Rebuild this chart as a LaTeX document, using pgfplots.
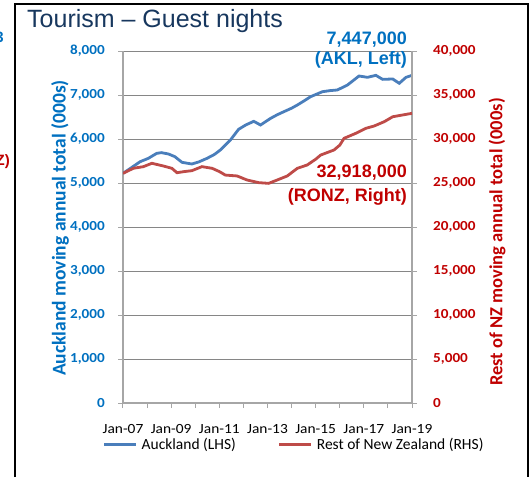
\documentclass[border=0pt]{standalone}
\usepackage{fontspec}
\setmainfont{Carlito}
\newfontfamily\arialf{Liberation Sans}
\newfontfamily\calst[FakeStretch=1.1]{Carlito}
\usepackage{pgfplots}
\pgfplotsset{compat=1.18}

\definecolor{aklline}{HTML}{4A7EBB}
\definecolor{ronzline}{HTML}{BE4B48}
\definecolor{aklblue}{HTML}{0070C0}
\definecolor{ronzred}{HTML}{C00000}
\definecolor{titlenavy}{HTML}{17375E}
\definecolor{gridgray}{HTML}{868686}
\definecolor{axisgray}{HTML}{A6A6A6}

\pgfplotsset{
  tourism/.style={
    scale only axis, width=289pt, height=352pt,
    xmin=2007, xmax=2019,
    tick align=outside, major tick length=5pt, minor tick length=5pt,
    axis line style={draw=axisgray, line width=1.6pt, -},
    tick style={draw=axisgray, line width=1pt},
    scaled y ticks=false,
    /pgf/number format/1000 sep={,},
    /pgf/number format/assume math mode=true,
  }
}

\begin{document}
\begin{tikzpicture}[x=1pt,y=1pt]
\useasboundingbox (-123,-74) rectangle (409,403);

\begin{axis}[tourism,
  ymin=0, ymax=8000,
  axis y line*=left, axis x line*=bottom,
  xtick={2007,2009,...,2019},
  xticklabels={Jan-07,Jan-09,Jan-11,Jan-13,Jan-15,Jan-17,Jan-19},
  minor xtick={2008,2010,...,2018},
  ytick={0,1000,...,8000},
  ymajorgrids, major grid style={draw=gridgray, line width=0.9pt},
  yticklabel style={anchor=east, inner sep=0pt, xshift=-13pt, text=aklblue, font=\calst\bfseries\fontsize{13.8}{15}\selectfont},
  xticklabel style={anchor=north, inner sep=0pt, yshift=-16pt, font=\calst\fontsize{14}{16}\selectfont},
  ylabel={Auckland moving annual total (000s)},
  ylabel style={at={(axis description cs:-0.218,0.497)}, anchor=center, rotate=0, text=aklblue, font=\bfseries\fontsize{19.5}{21}\selectfont},
]
\addplot[aklline, line width=2.8pt] coordinates {
(2007.00,5220) (2007.30,5330) (2007.71,5484) (2008.05,5560) (2008.40,5674) (2008.60,5690)
(2008.89,5659) (2009.15,5600) (2009.45,5470) (2009.86,5432) (2010.15,5480) (2010.49,5561)
(2010.80,5650) (2011.04,5750) (2011.46,5977) (2011.80,6220) (2012.10,6320) (2012.43,6402)
(2012.71,6318) (2013.13,6470) (2013.40,6550) (2013.68,6621) (2014.00,6700) (2014.24,6773)
(2014.50,6860) (2014.79,6962) (2015.28,7075) (2015.60,7100) (2015.90,7114) (2016.32,7227)
(2016.80,7432) (2017.15,7402) (2017.50,7447) (2017.78,7356) (2018.20,7364) (2018.47,7266)
(2018.75,7402) (2019.00,7447)
};
\end{axis}

\begin{axis}[tourism,
  ymin=0, ymax=40000,
  axis y line*=right, axis x line=none,
  ytick={0,5000,...,40000},
  yticklabel style={anchor=west, inner sep=0pt, xshift=16pt, text=ronzred, font=\calst\bfseries\fontsize{13.8}{15}\selectfont},
  ylabel={Rest of NZ moving annual total (000s)},
  ylabel style={at={(axis description cs:1.294,0.457)}, anchor=center, rotate=0, text=ronzred, font=\bfseries\fontsize{18.5}{20}\selectfont},
  legend columns=2,
  legend style={draw=none, fill=none, at={(axis description cs:0.592,-0.117)}, anchor=center,
    font=\fontsize{15.5}{17}\selectfont, inner sep=0pt,
    /tikz/every odd column/.style={column sep=2pt},
    /tikz/every even column/.style={column sep=40pt}},
  legend image code/.code={\draw[#1, line width=3pt] (0pt,0pt) -- (32pt,0pt);},
]
\addlegendimage{aklline, line width=2.8pt}
\addlegendentry{Auckland (LHS)}
\addplot[ronzline, line width=2.8pt] coordinates {
(2007.00,26100) (2007.43,26670) (2007.85,26860) (2008.20,27240) (2008.68,26930) (2009.03,26670)
(2009.24,26170) (2009.55,26300) (2009.86,26400) (2010.28,26860) (2010.70,26670) (2011.00,26300)
(2011.25,25900) (2011.74,25800) (2012.15,25340) (2012.64,25040) (2013.05,24960) (2013.40,25340)
(2013.82,25800) (2014.24,26670) (2014.65,27050) (2015.00,27700) (2015.21,28180) (2015.76,28750)
(2016.00,29300) (2016.18,30080) (2016.67,30650) (2017.08,31210) (2017.43,31480) (2017.85,31970)
(2018.20,32530) (2018.61,32730) (2019.00,32918)
};
\addlegendentry{Rest of New Zealand (RHS)}
\end{axis}

% title and callouts
\node[anchor=base west, inner sep=0pt, text=titlenavy, font=\arialf\fontsize{25}{28}\selectfont] at (-96,375) {Tourism – Guest nights};
\node[anchor=base east, inner sep=0pt, text=aklblue, font=\arialf\bfseries\fontsize{18}{20}\selectfont] at (284,358) {7,447,000};
\node[anchor=base east, inner sep=0pt, text=aklblue, font=\arialf\bfseries\fontsize{18}{20}\selectfont] at (284,338) {(AKL, Left)};
\node[anchor=base east, inner sep=0pt, text=ronzred, font=\arialf\bfseries\fontsize{18}{20}\selectfont] at (284,225) {32,918,000};
\node[anchor=base east, inner sep=0pt, text=ronzred, font=\arialf\bfseries\fontsize{18}{20}\selectfont] at (284,201) {(RONZ, Right)};

% frame and cut-off neighbour chart
\draw[black, line width=2.5pt] (-108,-74) -- (-108,399) -- (405,399) -- (405,-74);
\node[anchor=base east, inner sep=0pt, text=aklblue, font=\arialf\bfseries\fontsize{15}{17}\selectfont] at (-119,360) {3};
\node[anchor=base east, inner sep=0pt, text=ronzred, font=\arialf\bfseries\fontsize{15}{17}\selectfont] at (-113,237) {Z)};
\end{tikzpicture}
\end{document}
